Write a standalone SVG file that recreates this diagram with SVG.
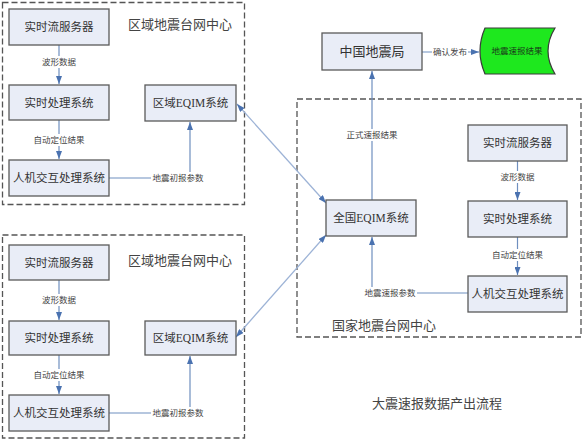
<svg xmlns="http://www.w3.org/2000/svg" width="583" height="441" viewBox="0 0 583 441">
<style>
text{font-family:"Liberation Serif","Noto Sans CJK SC",serif;fill:#333;dominant-baseline:central;text-anchor:middle}
.box{fill:#E9EDF7;stroke:#5a5a5a;stroke-width:1.3}
.bt{font-size:11.5px}
.region{fill:none;stroke:#555;stroke-width:1.3;stroke-dasharray:6 3}
.rt{font-size:13px;text-anchor:start;fill:#444}
.ln{fill:none;stroke:#6F8FBF;stroke-width:1.2}
.dg{fill:none;stroke:#9DB3D6;stroke-width:1.3}
.lt{font-size:8.5px;fill:#444}
.bg{fill:#fff}
</style>
<defs>
<marker id="ah" viewBox="0 0 8 6" refX="8" refY="3" markerWidth="8" markerHeight="6" markerUnits="userSpaceOnUse" orient="auto-start-reverse">
<path d="M0,0 L8,3 L0,6 z" fill="#4A72B0"/>
</marker>
</defs>
<rect width="583" height="441" fill="#fff"/>

<g id="region-top">
<rect class="region" x="2.5" y="2.5" width="242" height="202"/>
<text class="rt" x="128" y="24">区域地震台网中心</text>
</g>
<g id="region-bottom">
<rect class="region" x="2.5" y="235" width="242" height="203"/>
<text class="rt" x="128" y="260">区域地震台网中心</text>
</g>
<g id="region-national">
<rect class="region" x="297" y="99" width="284" height="238"/>
<text class="rt" x="332" y="325">国家地震台网中心</text>
</g>

<g id="connectors">
<line class="ln" x1="59" y1="45" x2="59" y2="84" marker-end="url(#ah)"/>
<line class="ln" x1="59" y1="120" x2="59" y2="159" marker-end="url(#ah)"/>
<path class="ln" d="M109,178 H190 V122" marker-end="url(#ah)"/>
<line class="ln" x1="59" y1="280" x2="59" y2="320" marker-end="url(#ah)"/>
<line class="ln" x1="59" y1="355" x2="59" y2="394" marker-end="url(#ah)"/>
<path class="ln" d="M109,413 H190 V356" marker-end="url(#ah)"/>
<line class="ln" x1="517.5" y1="161" x2="517.5" y2="200" marker-end="url(#ah)"/>
<line class="ln" x1="517.5" y1="237" x2="517.5" y2="275" marker-end="url(#ah)"/>
<path class="ln" d="M468,293 H372 V237" marker-end="url(#ah)"/>
<line class="ln" x1="372" y1="200" x2="372" y2="71" marker-end="url(#ah)"/>
<line class="ln" x1="422" y1="52" x2="479" y2="52" marker-end="url(#ah)"/>
<line class="dg" x1="237" y1="104" x2="326" y2="203" marker-start="url(#ah)" marker-end="url(#ah)"/>
<line class="dg" x1="326" y1="235" x2="236" y2="337" marker-start="url(#ah)" marker-end="url(#ah)"/>

<rect class="bg" x="42" y="56" width="34" height="12"/>
<text class="lt" x="59" y="62">波形数据</text>
<rect class="bg" x="33" y="134" width="52" height="12"/>
<text class="lt" x="59" y="140">自动定位结果</text>
<rect class="bg" x="151" y="172" width="54" height="12"/>
<text class="lt" x="178" y="178">地震初报参数</text>
<rect class="bg" x="42" y="294" width="34" height="12"/>
<text class="lt" x="59" y="300">波形数据</text>
<rect class="bg" x="33" y="369" width="52" height="12"/>
<text class="lt" x="59" y="375">自动定位结果</text>
<rect class="bg" x="151" y="407" width="54" height="12"/>
<text class="lt" x="178" y="413">地震初报参数</text>
<rect class="bg" x="500" y="171" width="35" height="12"/>
<text class="lt" x="517.5" y="177">波形数据</text>
<rect class="bg" x="491" y="249" width="53" height="12"/>
<text class="lt" x="517.5" y="255">自动定位结果</text>
<rect class="bg" x="363" y="287" width="54" height="12"/>
<text class="lt" x="390" y="293">地震速报参数</text>
<rect class="bg" x="346" y="129" width="52" height="12"/>
<text class="lt" x="372" y="135">正式速报结果</text>
<rect class="bg" x="432" y="46" width="36" height="12"/>
<text class="lt" x="450" y="52">确认发布</text>
</g>

<g id="r1-stream"><rect class="box" x="9" y="9" width="100" height="36"/><text class="bt" x="59" y="27">实时流服务器</text></g>
<g id="r1-proc"><rect class="box" x="9" y="85" width="100" height="35"/><text class="bt" x="59" y="102.5">实时处理系统</text></g>
<g id="r1-hci"><rect class="box" x="9" y="160" width="100" height="36"/><text class="bt" x="59" y="178">人机交互处理系统</text></g>
<g id="r1-eqim"><rect class="box" x="145" y="85" width="91" height="36"/><text class="bt" x="190.5" y="103">区域EQIM系统</text></g>

<g id="r2-stream"><rect class="box" x="9" y="245" width="100" height="35"/><text class="bt" x="59" y="262.5">实时流服务器</text></g>
<g id="r2-proc"><rect class="box" x="9" y="321" width="100" height="34"/><text class="bt" x="59" y="338">实时处理系统</text></g>
<g id="r2-hci"><rect class="box" x="9" y="395" width="100" height="36"/><text class="bt" x="59" y="413">人机交互处理系统</text></g>
<g id="r2-eqim"><rect class="box" x="145" y="321" width="91" height="34"/><text class="bt" x="190.5" y="338">区域EQIM系统</text></g>

<g id="n-eqim"><rect class="box" x="326" y="200" width="90" height="36"/><text class="bt" x="371" y="218">全国EQIM系统</text></g>
<g id="n-stream"><rect class="box" x="468" y="125" width="99" height="36"/><text class="bt" x="517.5" y="143">实时流服务器</text></g>
<g id="n-proc"><rect class="box" x="468" y="201" width="99" height="36"/><text class="bt" x="517.5" y="219">实时处理系统</text></g>
<g id="n-hci"><rect class="box" x="468" y="276" width="99" height="36"/><text class="bt" x="517.5" y="294">人机交互处理系统</text></g>

<g id="cea"><rect class="box" x="322" y="33" width="100" height="37"/><text x="372" y="51.5" style="font-size:13px">中国地震局</text></g>
<g id="result"><path d="M485,28 L555,28 Q541,51 555,74 L485,74 Q475,51 485,28 Z" fill="#1EE81E" stroke="#3a3a3a" stroke-width="1.2"/><text class="lt" x="517" y="51" style="fill:#1a3a1a">地震速报结果</text></g>

<g id="title"><text x="437" y="403" style="font-size:13px;fill:#444">大震速报数据产出流程</text></g>
</svg>
